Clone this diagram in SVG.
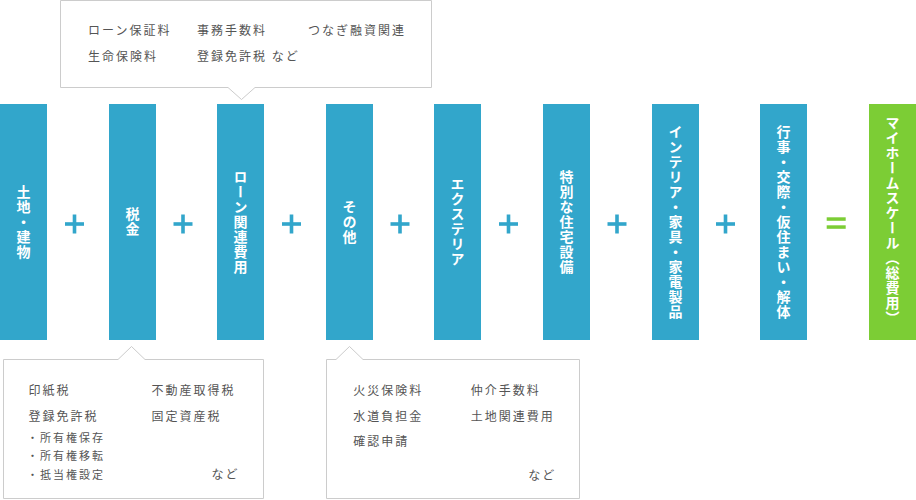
<svg xmlns="http://www.w3.org/2000/svg" width="916" height="500" viewBox="0 0 916 500">
<style>
.bar{fill:#32a6cb}
.total{fill:#7ccd35}
.vt{font-family:"Noto Sans CJK JP","Noto Sans",sans-serif;font-size:14px;font-weight:bold;fill:#ffffff;writing-mode:vertical-rl;text-anchor:middle;letter-spacing:1px}
.op{fill:#32a6cb}
.eq{fill:#7ccd35}
.callout{fill:#ffffff;stroke:#cccccc;stroke-width:1}
.ct{font-family:"Noto Sans CJK JP","Noto Sans",sans-serif;font-size:12px;fill:#555555;letter-spacing:2px}
.cs{font-family:"Noto Sans CJK JP","Noto Sans",sans-serif;font-size:11px;fill:#555555;letter-spacing:2px}
</style>
<rect width="916" height="500" fill="#ffffff"/>
<g id="connectors">
<g id="plus1" class="op"><rect x="65" y="222.2" width="19" height="3.6"/><rect x="72.7" y="214.5" width="3.6" height="19"/></g>
<g id="plus2" class="op"><rect x="173.5" y="222.2" width="19" height="3.6"/><rect x="181.2" y="214.5" width="3.6" height="19"/></g>
<g id="plus3" class="op"><rect x="282" y="222.2" width="19" height="3.6"/><rect x="289.7" y="214.5" width="3.6" height="19"/></g>
<g id="plus4" class="op"><rect x="390.5" y="222.2" width="19" height="3.6"/><rect x="398.2" y="214.5" width="3.6" height="19"/></g>
<g id="plus5" class="op"><rect x="499" y="222.2" width="19" height="3.6"/><rect x="506.7" y="214.5" width="3.6" height="19"/></g>
<g id="plus6" class="op"><rect x="607.5" y="222.2" width="19" height="3.6"/><rect x="615.2" y="214.5" width="3.6" height="19"/></g>
<g id="plus7" class="op"><rect x="716" y="222.2" width="19" height="3.6"/><rect x="723.7" y="214.5" width="3.6" height="19"/></g>
<g id="equals" class="eq"><rect x="826.7" y="217.3" width="19" height="3.5"/><rect x="826.7" y="225.3" width="19" height="3.5"/></g>
</g>
<g id="n1"><rect class="bar" x="0" y="104" width="47" height="236"/><text class="vt" x="23.5" y="222">土地・建物</text></g>
<g id="n2"><rect class="bar" x="109" y="104" width="47" height="236"/><text class="vt" x="132.5" y="222">税金</text></g>
<g id="n3"><rect class="bar" x="217" y="104" width="47" height="236"/><text class="vt" x="240.5" y="222">ローン関連費用</text></g>
<g id="n4"><rect class="bar" x="326" y="104" width="47" height="236"/><text class="vt" x="349.5" y="222">その他</text></g>
<g id="n5"><rect class="bar" x="434" y="104" width="47" height="236"/><text class="vt" x="457.5" y="222">エクステリア</text></g>
<g id="n6"><rect class="bar" x="543" y="104" width="47" height="236"/><text class="vt" x="566.5" y="222">特別な住宅設備</text></g>
<g id="n7"><rect class="bar" x="652" y="104" width="47" height="236"/><text class="vt" x="675.5" y="222">インテリア・家具・家電製品</text></g>
<g id="n8"><rect class="bar" x="760" y="104" width="47" height="236"/><text class="vt" x="783.5" y="222">行事・交際・仮住まい・解体</text></g>
<g id="n9"><rect class="total" x="869" y="104" width="47" height="236"/><text class="vt" x="892.5" y="221">マイホームスケール（総費用）</text></g>
<g id="note-loan">
<path class="callout" d="M60.5,0.5 H431.5 V87.5 H255 L241.5,99.5 L228,87.5 H60.5 Z"/>
<text class="ct" x="88" y="35.3">ローン保証料</text>
<text class="ct" x="197" y="35.3">事務手数料</text>
<text class="ct" x="308" y="35.3">つなぎ融資関連</text>
<text class="ct" x="88" y="61.3">生命保険料</text>
<text class="ct" x="197" y="61.3">登録免許税 など</text>
</g>
<g id="note-tax">
<path class="callout" d="M3.5,359.5 H118 L131.5,346.5 L145,359.5 H263.5 V498.5 H3.5 Z"/>
<text class="ct" x="28.5" y="394.6">印紙税</text>
<text class="ct" x="151.5" y="394.6">不動産取得税</text>
<text class="ct" x="28.5" y="420.6">登録免許税</text>
<text class="ct" x="151.5" y="420.6">固定資産税</text>
<text class="cs" x="27" y="442">・所有権保存</text>
<text class="cs" x="27" y="460.2">・所有権移転</text>
<text class="cs" x="27" y="478.5">・抵当権設定</text>
<text class="ct" x="211.5" y="478.6">など</text>
</g>
<g id="note-other">
<path class="callout" d="M326.5,359.5 H336 L349.5,346.5 L363,359.5 H579.5 V498.5 H326.5 Z"/>
<text class="ct" x="353.3" y="394.6">火災保険料</text>
<text class="ct" x="470.7" y="394.6">仲介手数料</text>
<text class="ct" x="353.3" y="420.6">水道負担金</text>
<text class="ct" x="470.7" y="420.6">土地関連費用</text>
<text class="ct" x="353.3" y="445.6">確認申請</text>
<text class="ct" x="528.3" y="479.6">など</text>
</g>
</svg>
